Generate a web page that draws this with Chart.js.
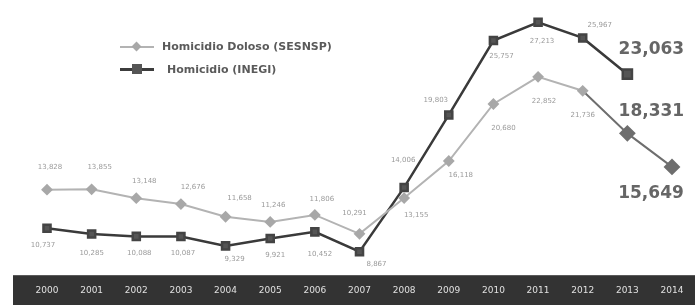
<!DOCTYPE html>
<html>
<head>
<meta charset="utf-8">
<script src="https://cdn.jsdelivr.net/npm/chart.js@4.4.1/dist/chart.umd.min.js"></script>
<style>
    html, body { margin: 0; padding: 0; background: #fff; }
    #wrap { position: relative; width: 695px; height: 305px; }
    #chart { display: block; }
    .legend { position: absolute; left: 120px; top: 0; font: bold 11px "DejaVu Sans", sans-serif; color: #5a5a5a; }
    .legend .item { position: absolute; white-space: nowrap; height: 12px; line-height: 12px; }
    .legend .line { position: absolute; left: 0; top: 5px; width: 34px; height: 2px; }
    .legend .mark { position: absolute; }
    .legend .txt { position: absolute; top: 0; }
</style>
</head>
<body>
<div id="wrap">
    <canvas id="chart" width="695" height="305"></canvas>
    <div class="legend">
        <div class="item" style="top:41px">
            <div class="line" style="background:#b3b3b3"></div>
            <div class="mark" style="left:13px;top:2px;width:7px;height:7px;background:#a8a8a8;transform:rotate(45deg)"></div>
            <span class="txt" style="left:42px">Homicidio Doloso (SESNSP)</span>
        </div>
        <div class="item" style="top:64px">
            <div class="line" style="background:#3c3c3c;height:3px;top:4px"></div>
            <div class="mark" style="left:12px;top:0px;width:10px;height:10px;background:#555"></div>
            <span class="txt" style="left:47px">Homicidio (INEGI)</span>
        </div>
    </div>
</div>
<script>
const years = ['2000', '2001', '2002', '2003', '2004', '2005', '2006', '2007',
    '2008', '2009', '2010', '2011', '2012', '2013', '2014'];
const sesnsp = [13828, 13855, 13148, 12676, 11658, 11246, 11806, 10291,
    13155, 16118, 20680, 22852, 21736, 18331, 15649];
const inegi = [10737, 10285, 10088, 10087, 9329, 9921, 10452, 8867,
    14006, 19803, 25757, 27213, 25967, 23063, null];

// label offsets from each point, [dx, dy]
const sesnspOffsets = [[3, -22], [8, -22], [8, -17], [12, -17], [14, -19], [3, -17], [7, -16], [-5, -21],
    [12, 17], [12, 14], [10, 24], [6, 24], [0, 24], [24, -22], [-21, 27]];
const inegiOffsets = [[-4, 17], [0, 19], [3, 17], [2, 17], [9, 13], [5, 17], [5, 22], [17, 13],
    [-1, -27], [-13, -15], [8, 16], [4, 19], [17, -13], [24, -25], [0, 0]];
const bigLabels = {sesnsp: [13, 14], inegi: [13]};

const fmt = v => v.toLocaleString('en-US');

const bandPlugin = {
    id: 'band',
    beforeDraw(chart) {
        const {ctx, scales} = chart;
        const top = scales.x.top;
        ctx.save();
        ctx.fillStyle = '#333';
        ctx.fillRect(13, top, chart.width - 13, chart.height - top);
        ctx.fillStyle = '#5a5a5a';
        ctx.fillRect(13, top, chart.width - 13, 1);
        ctx.restore();
    }
};

const labelPlugin = {
    id: 'pointLabels',
    afterDatasetsDraw(chart) {
        const ctx = chart.ctx;
        ctx.save();
        ctx.textAlign = 'center';
        ctx.textBaseline = 'middle';
        chart.data.datasets.forEach((ds, di) => {
            const meta = chart.getDatasetMeta(di);
            const offsets = ds.key === 'sesnsp' ? sesnspOffsets : inegiOffsets;
            const big = bigLabels[ds.key];
            meta.data.forEach((pt, i) => {
                const v = ds.data[i];
                if (v == null) return;
                const [dx, dy] = offsets[i];
                if (big.includes(i)) {
                    ctx.font = 'bold 17px "DejaVu Sans", sans-serif';
                    ctx.fillStyle = '#666';
                } else {
                    ctx.font = '7px "DejaVu Sans", sans-serif';
                    ctx.fillStyle = '#9a9a9a';
                }
                ctx.fillText(fmt(v), pt.x + dx, pt.y + dy);
            });
        });
        ctx.restore();
    }
};

const lightPts = sesnsp.map((v, i) => i >= 13 ? '#6e6e6e' : '#a8a8a8');

new Chart(document.getElementById('chart'), {
    type: 'line',
    data: {
        labels: years,
        datasets: [
            {
                key: 'sesnsp',
                label: 'Homicidio Doloso (SESNSP)',
                data: sesnsp,
                borderColor: '#b3b3b3',
                borderWidth: 2,
                pointStyle: 'rectRot',
                pointRadius: sesnsp.map((v, i) => i >= 13 ? 7 : 4.5),
                pointBackgroundColor: lightPts,
                pointBorderColor: lightPts,
                segment: {
                    borderColor: c => c.p0DataIndex >= 12 ? '#6e6e6e' : '#b3b3b3'
                }
            },
            {
                key: 'inegi',
                label: 'Homicidio (INEGI)',
                data: inegi,
                borderColor: '#3a3a3a',
                borderWidth: 2.5,
                pointStyle: 'rect',
                pointRadius: inegi.map((v, i) => i === 13 ? 6.5 : 5),
                pointBackgroundColor: '#555',
                pointBorderColor: '#444'
            }
        ]
    },
    options: {
        responsive: false,
        animation: false,
        layout: {autoPadding: false, padding: {left: 47, right: 23, top: 0, bottom: 0}},
        plugins: {legend: {display: false}, tooltip: {enabled: false}},
        scales: {
            y: {display: false, min: 7000, max: 29000},
            x: {
                offset: false,
                grid: {display: false},
                border: {display: false},
                ticks: {
                    color: '#e0e0e0',
                    font: {family: '"DejaVu Sans", sans-serif', size: 9},
                    padding: 2,
                    maxRotation: 0,
                    autoSkip: false
                },
                afterFit(scale) { scale.height = 30; }
            }
        }
    },
    plugins: [bandPlugin, labelPlugin]
});
</script>
</body>
</html>
